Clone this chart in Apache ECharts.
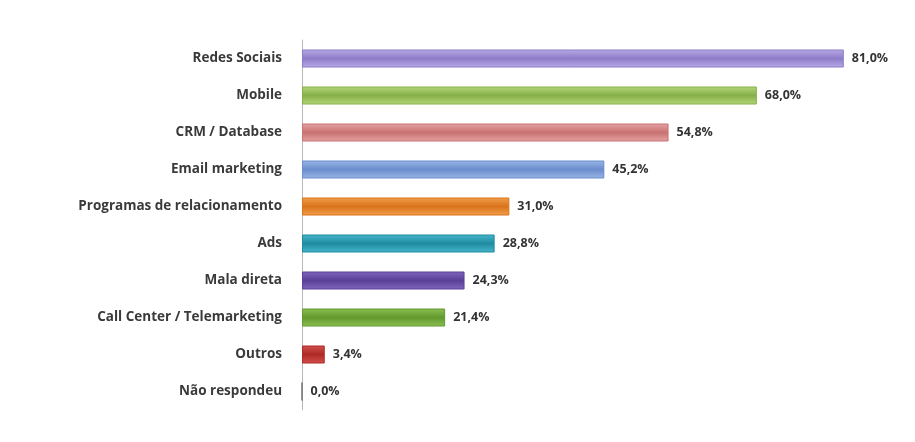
<!DOCTYPE html>
<html>
<head>
<meta charset="utf-8">
<script src="https://cdn.jsdelivr.net/npm/echarts@6/dist/echarts.min.js"></script>
<style>
  html, body { margin: 0; padding: 0; background: #ffffff; }
  #chart { width: 915px; height: 442px; }
</style>
</head>
<body>
<div id="chart"></div>
<script>
// Canais utilizados (percentual de respostas)
const categories = [
  'Redes Sociais',
  'Mobile',
  'CRM / Database',
  'Email marketing',
  'Programas de relacionamento',
  'Ads',
  'Mala direta',
  'Call Center / Telemarketing',
  'Outros',
  'Não respondeu'
];
const values = [81.0, 68.0, 54.8, 45.2, 31.0, 28.8, 24.3, 21.4, 3.4, 0.0];
const barColors = [
  ['#b7a9e6', '#8f7cc9'],
  ['#b3d67a', '#86b047'],
  ['#e6a3a3', '#c97272'],
  ['#9ab6e6', '#6b8dcc'],
  ['#f29d4a', '#d9741c'],
  ['#46b6cb', '#1f8ba1'],
  ['#8266bd', '#5a3f98'],
  ['#8cbf52', '#629a2e'],
  ['#d4504c', '#ad2a27'],
  ['#a0a0a0', '#707070']
];

function pct(v) {
  return v.toFixed(1).replace('.', ',') + '%';
}

const chart = echarts.init(document.getElementById('chart'), null, { renderer: 'canvas' });

chart.setOption({
  backgroundColor: '#ffffff',
  animation: false,
  grid: { left: 302, right: 11, top: 40, bottom: 32 },
  xAxis: {
    type: 'value',
    min: 0,
    max: 90,
    show: false
  },
  yAxis: {
    type: 'category',
    data: categories,
    inverse: true,
    axisLine: { show: true, lineStyle: { color: '#b8b8b8', width: 1 } },
    axisTick: { show: false },
    axisLabel: {
      margin: 20,
      color: '#3a3a3a',
      fontFamily: 'Open Sans, Liberation Sans, sans-serif',
      fontSize: 13.5,
      fontWeight: 'bold'
    }
  },
  series: [{
    type: 'bar',
    barWidth: 18,
    data: values.map(function (v, i) {
      return {
        value: v,
        itemStyle: {
          color: new echarts.graphic.LinearGradient(0, 0, 0, 1, [
            { offset: 0, color: barColors[i][0] },
            { offset: 0.5, color: barColors[i][1] },
            { offset: 1, color: barColors[i][0] }
          ]),
          borderColor: barColors[i][1],
          borderWidth: 1
        }
      };
    }),
    label: {
      show: true,
      position: 'right',
      distance: 8,
      color: '#333333',
      fontFamily: 'Open Sans, Liberation Sans, sans-serif',
      fontSize: 12.5,
      fontWeight: 'bold',
      formatter: function (p) { return pct(p.value); }
    }
  }]
});
</script>
</body>
</html>
